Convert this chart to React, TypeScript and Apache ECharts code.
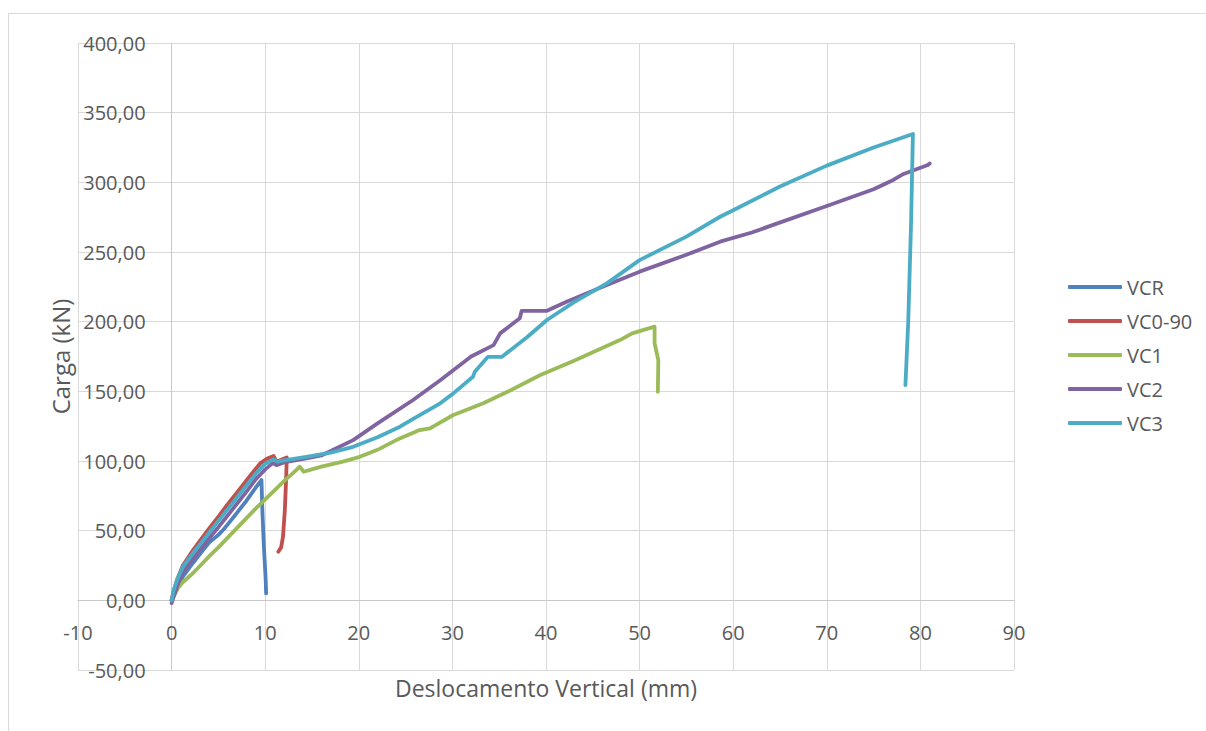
import React, { useEffect, useRef } from "react";
import * as echarts from "echarts";

const seriesNames = ["VCR", "VC0-90", "VC1", "VC2", "VC3"];
const seriesColors = ["#4F81BD", "#C0504D", "#9BBB59", "#8064A2", "#4BACC6"];

const xMin = -10;
const xMax = 90;
const xStep = 10;
const yMin = -50;
const yMax = 400;
const yStep = 50;

const vcr: number[][] = [
  [0, 0], [0.5, 8], [1.2, 17], [2.3, 27], [3, 33], [4, 41.5], [5, 47], [5.5, 50.5],
  [6, 54.5], [7, 63], [8, 71.5], [9, 81], [9.6, 86.3], [9.65, 75], [9.7, 64],
  [9.85, 40], [10.05, 15], [10.1, 5],
];

const vc090: number[][] = [
  [0, 0], [0.2, 6], [0.6, 15], [1.2, 25], [2.3, 36], [3, 42.5], [4, 51.5], [5, 60],
  [6, 69], [7, 77.5], [8, 86], [9, 94.5], [9.5, 98.5], [10.3, 102], [10.9, 103.6],
  [11.2, 99.5], [12.3, 102.6], [12.25, 90], [12.2, 81.5], [12.1, 65], [11.9, 45.6],
  [11.7, 38], [11.4, 34.9],
];

const vc1: number[][] = [
  [0, 0], [0.3, 4], [0.7, 9], [1.2, 13], [2.3, 19.6], [3, 24.5], [4, 31.5], [5, 38],
  [6, 45], [7, 52], [8, 59], [9, 66], [10, 72.5], [11, 79], [12, 85.5], [13, 91.5],
  [13.7, 95.9], [14.1, 92.3], [16, 96], [18.3, 99.5], [20.1, 103], [22, 108], [24, 115],
  [26.5, 122.2], [27.6, 123.4], [30.1, 133], [33.3, 141.4], [36, 150], [39.4, 161.7],
  [43, 172], [47.9, 186.8], [49.2, 191.6], [51.6, 196.4], [51.6, 184.5], [52, 172.5],
  [51.95, 149.7],
];

const vc2: number[][] = [
  [0, -2], [0.3, 4], [0.7, 12], [1.2, 20], [2.3, 30], [3, 36], [4, 44.5], [5, 52.5],
  [6, 61], [7, 69.5], [8, 78], [9, 87], [10, 94], [10.8, 98.5], [11.2, 97], [12, 99],
  [14.4, 101.9], [16, 104], [19.4, 115], [22, 127], [25.8, 143.8], [28.7, 158],
  [32, 175], [34.4, 183.2], [35.1, 191.6], [37.2, 202.4], [37.4, 207.8], [40.1, 207.8],
  [42.2, 214.3], [46.5, 226.3], [50, 235.9], [55, 248], [58.6, 257.4], [62, 264],
  [64.5, 270], [70, 283], [75, 295], [77.1, 301.7], [78.2, 306], [80.8, 312.4],
  [81, 313.5],
];

const vc3: number[][] = [
  [0, 0], [0.2, 7], [0.6, 15], [1.2, 24], [2.3, 34], [3, 40], [4, 48.5], [5, 57],
  [6, 65.5], [7, 74], [8, 82.5], [9, 91], [10, 98], [10.9, 101.2], [11.3, 99.5],
  [12, 100.5], [14.4, 103], [17, 106], [19.4, 110.2], [22, 117], [24.4, 124.6],
  [26, 131], [28.7, 141.4], [30, 148], [32.2, 160.5], [32.4, 164.1], [33.8, 174.8],
  [35.3, 174.8], [38, 189], [40.1, 201.2], [43, 214], [46.5, 227.5], [50, 244.2],
  [55, 261], [58.6, 275.3], [60, 280], [65, 297], [70, 312], [75, 325], [79.2, 334.7],
  [79, 270], [78.7, 200], [78.4, 154.5],
];

const seriesData = [vcr, vc090, vc1, vc2, vc3];

const FONT = "'Open Sans', sans-serif";
const TXT = "#595959";

const GRID_W = 936;
const GRID_H = 627;

export default function App() {
  const ref = useRef<HTMLDivElement>(null);
  useEffect(() => {
    if (!ref.current) return;
    const chart = echarts.init(ref.current, null, { renderer: "svg" });
    // axes cross at zero, as in the original: shift each axis from the grid edge to the zero line
    const yAxisOffset = -GRID_W * (0 - xMin) / (xMax - xMin);
    const xAxisOffset = -GRID_H * (0 - yMin) / (yMax - yMin);
    chart.setOption({
      animation: false,
      backgroundColor: "#ffffff",
      textStyle: { fontFamily: FONT },
      graphic: [
        {
          type: "rect",
          z: -10,
          shape: { x: 8.5, y: 13.5, width: 1300, height: 800 },
          style: { fill: "none", stroke: "#d9d9d9", lineWidth: 1 },
        },
      ],
      grid: {
        left: 78,
        top: 43,
        width: GRID_W,
        height: GRID_H,
        containLabel: false,
        outerBoundsMode: "none",
      },
      legend: {
        orient: "vertical",
        left: 1063,
        top: 272,
        icon: "roundRect",
        itemWidth: 54,
        itemHeight: 4,
        itemGap: 14,
        data: seriesNames,
        textStyle: { color: TXT, fontSize: 20, fontFamily: FONT, lineHeight: 20 },
      },
      xAxis: {
        type: "value",
        min: xMin,
        max: xMax,
        interval: xStep,
        offset: xAxisOffset,
        name: "Deslocamento Vertical (mm)",
        nameLocation: "middle",
        nameGap: 76,
        nameTextStyle: { color: TXT, fontSize: 23, fontFamily: FONT },
        axisLine: { show: true, onZero: false, lineStyle: { color: "#c8c8c8", width: 1 } },
        axisTick: { show: false },
        axisLabel: { color: TXT, fontSize: 20, fontFamily: FONT, margin: 22 },
        splitLine: { show: true, lineStyle: { color: "#d9d9d9", width: 1 } },
      },
      yAxis: {
        type: "value",
        min: yMin,
        max: yMax,
        interval: yStep,
        offset: yAxisOffset,
        name: "Carga (kN)",
        nameLocation: "middle",
        nameGap: 96,
        nameTextStyle: { color: TXT, fontSize: 24, fontFamily: FONT },
        axisLine: { show: true, onZero: false, lineStyle: { color: "#c8c8c8", width: 1 } },
        axisTick: { show: false },
        axisLabel: {
          color: TXT,
          fontSize: 20,
          fontFamily: FONT,
          margin: 26,
          formatter: (v: number) => v.toFixed(2).replace(".", ","),
        },
        splitLine: { show: true, lineStyle: { color: "#d9d9d9", width: 1 } },
      },
      series: seriesNames.map((name, i) => ({
        name,
        type: "line",
        data: seriesData[i],
        symbol: "none",
        showSymbol: false,
        smooth: false,
        lineStyle: { color: seriesColors[i], width: 3.8, cap: "round", join: "round" },
        itemStyle: { color: seriesColors[i] },
        z: 2 + i,
      })),
    });
    return () => chart.dispose();
  }, []);
  return (
    <div
      ref={ref}
      style={{ position: "absolute", left: 0, top: 0, width: 1206, height: 731 }}
    />
  );
}
